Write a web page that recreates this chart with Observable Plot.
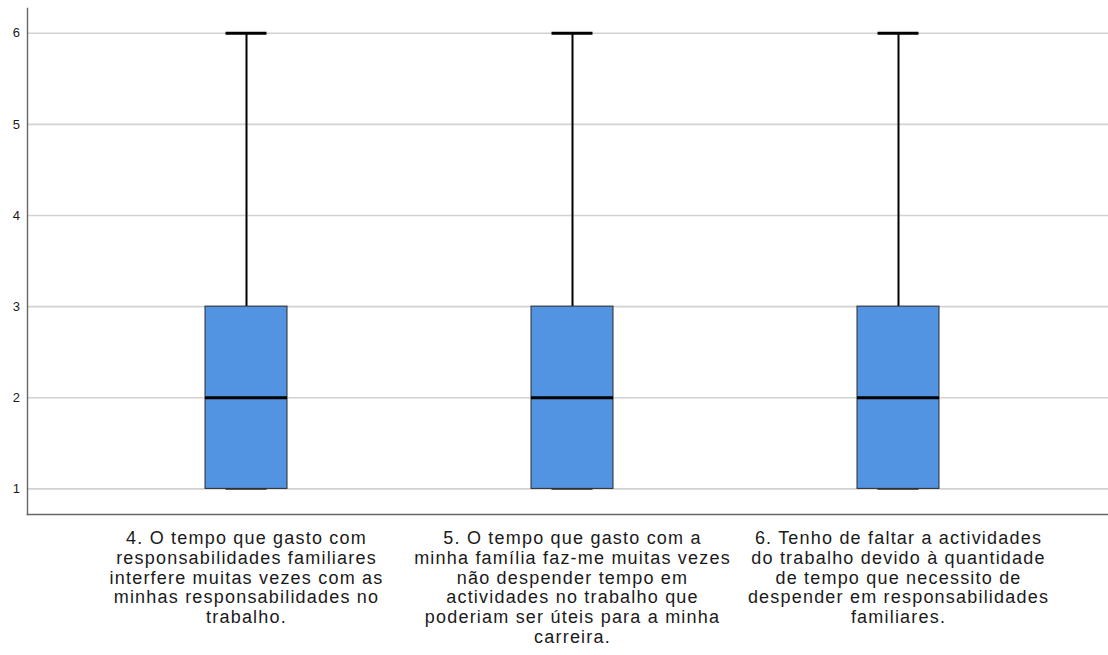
<!DOCTYPE html>
<html>
<head>
<meta charset="utf-8">
<script src="https://cdn.jsdelivr.net/npm/d3@7"></script>
<script src="https://cdn.jsdelivr.net/npm/@observablehq/plot@0.6"></script>
<style>
  html, body { margin: 0; padding: 0; background: #fff; }
  #chart svg { display: block; }
</style>
</head>
<body>
<div id="chart"></div>
<script>
// Survey items (category labels, pre-wrapped)
const questions = [
  "4. O tempo que gasto com\nresponsabilidades familiares\ninterfere muitas vezes com as\nminhas responsabilidades no\ntrabalho.",
  "5. O tempo que gasto com a\nminha família faz-me muitas vezes\nnão despender tempo em\nactividades no trabalho que\npoderiam ser úteis para a minha\ncarreira.",
  "6. Tenho de faltar a actividades\ndo trabalho devido à quantidade\nde tempo que necessito de\ndespender em responsabilidades\nfamiliares."
];

// Five-number summaries per item
const minimum = [1, 1, 1];
const lowerQuartile = [1, 1, 1];
const median = [2, 2, 2];
const upperQuartile = [3, 3, 3];
const maximum = [6, 6, 6];

// Y axis tick values
const yTicks = [1, 2, 3, 4, 5, 6];

const boxes = questions.map((q, i) => ({
  question: q,
  min: minimum[i],
  q1: lowerQuartile[i],
  median: median[i],
  q3: upperQuartile[i],
  max: maximum[i]
}));

const boxFill = "#5294e2";

const chart = Plot.plot({
  width: 1108,
  height: 655,
  marginTop: 8,
  marginRight: 0,
  marginLeft: 27,
  marginBottom: 141,
  style: {fontFamily: "'Liberation Sans', Arial, sans-serif", color: "#1a1a1a", background: "#fff"},
  x: {
    type: "band",
    domain: questions,
    paddingInner: 0.749,
    paddingOuter: 0.5285,
    align: 0.5125,
    label: null
  },
  y: {
    domain: [0.719, 6.271],
    label: null
  },
  marks: [
    Plot.ruleY(yTicks, {stroke: "#d2d2d2", strokeWidth: 1.6}),
    Plot.frame({anchor: "left", stroke: "#666", strokeWidth: 1.4}),
    Plot.frame({anchor: "bottom", stroke: "#666", strokeWidth: 1.6}),
    Plot.axisY({ticks: yTicks, tickFormat: "d", tickSize: 0, tickPadding: 7.5, fontSize: 13, label: null}),
    Plot.axisX({tickSize: 0, tickPadding: 16, fontSize: 18, lineHeight: 1.09, label: null}),
    // whiskers
    Plot.ruleX(boxes, {x: "question", y1: "q3", y2: "max", stroke: "#000", strokeWidth: 2}),
    Plot.tickY(boxes, {x: "question", y: "min", stroke: "#555", strokeWidth: 2, insetLeft: 20.5, insetRight: 20.5}),
    // boxes
    Plot.barY(boxes, {x: "question", y1: "q1", y2: "q3", fill: boxFill, stroke: "#2a2a2a", strokeWidth: 1}),
    // medians
    Plot.tickY(boxes, {x: "question", y: "median", stroke: "#000", strokeWidth: 3}),
    // caps
    Plot.tickY(boxes, {x: "question", y: "max", stroke: "#000", strokeWidth: 3, insetLeft: 20.5, insetRight: 20.5})
  ]
});

d3.select(chart).selectAll('g[aria-label="x-axis tick label"] text').style("letter-spacing", "1.2px");
document.getElementById("chart").appendChild(chart);
</script>
</body>
</html>
